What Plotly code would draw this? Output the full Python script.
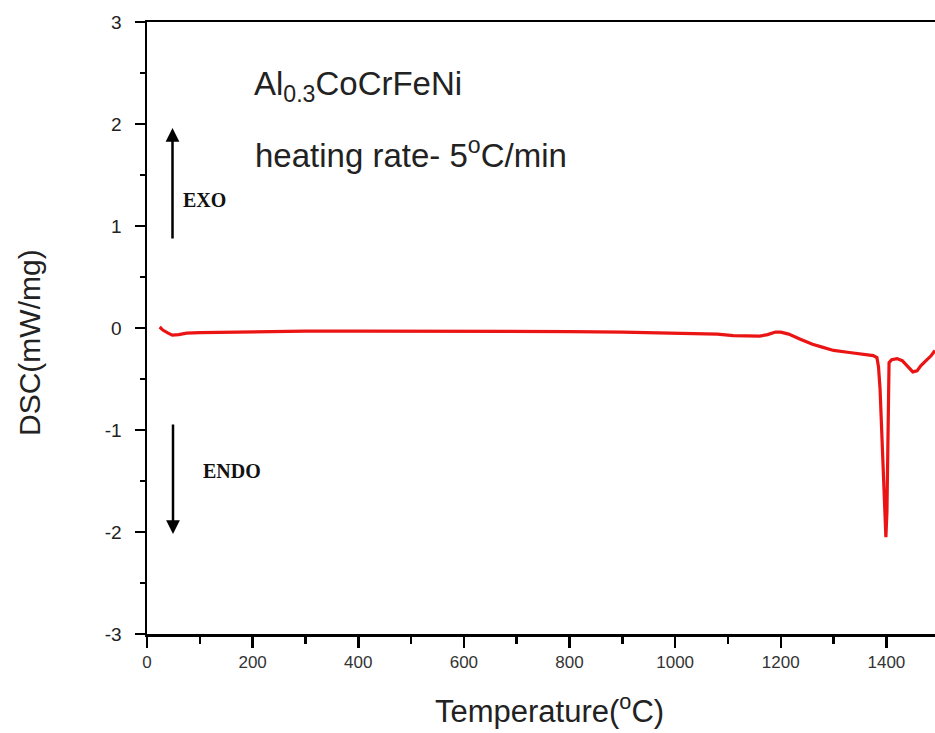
import plotly.graph_objects as go

# Data
temperature = [24, 30, 40, 48, 60, 75, 100, 150, 200, 300, 400, 500, 600, 700, 800, 900,
               1000, 1050, 1080, 1110, 1140, 1160, 1175, 1190, 1200, 1215, 1237, 1260, 1280,
               1300, 1330, 1360, 1375, 1382, 1385, 1388, 1392, 1396, 1399, 1401, 1403, 1405,
               1410, 1420, 1430, 1440, 1450, 1458, 1465, 1475, 1485, 1492]
dsc = [0.01, -0.02, -0.05, -0.07, -0.065, -0.05, -0.045, -0.04, -0.035, -0.03, -0.03, -0.03,
       -0.03, -0.03, -0.035, -0.04, -0.05, -0.05, -0.06, -0.075, -0.08, -0.08, -0.065, -0.04,
       -0.04, -0.06, -0.11, -0.16, -0.19, -0.22, -0.24, -0.26, -0.27, -0.29, -0.38, -0.6,
       -1.1, -1.6, -2.05, -1.8, -0.7, -0.34, -0.31, -0.3, -0.32, -0.37, -0.43, -0.42, -0.37,
       -0.32, -0.27, -0.22]

x_ticks = [0, 200, 400, 600, 800, 1000, 1200, 1400]
x_tick_labels = ["0", "200", "400", "600", "800", "1000", "1200", "1400"]
y_ticks = [-3, -2, -1, 0, 1, 2, 3]
y_tick_labels = ["-3", "-2", "-1", "0", "1", "2", "3"]

SANS = "Liberation Sans, Arial, sans-serif"
SERIF = "Liberation Serif, Times New Roman, serif"

W, H = 935, 733
L, T, B = 147, 22, 733 - 634

fig = go.Figure()
fig.add_trace(go.Scatter(x=temperature, y=dsc, mode="lines",
                         line=dict(color="rgb(235,20,20)", width=3.2),
                         showlegend=False, hoverinfo="skip"))

fig.update_layout(
    width=W, height=H,
    margin=dict(l=L, r=0, t=T, b=B, pad=0),
    paper_bgcolor="white", plot_bgcolor="white",
    font=dict(family=SANS, color="#222"),
    xaxis=dict(range=[0, 1492], tickvals=x_ticks, ticktext=x_tick_labels,
               showgrid=False, zeroline=False, showline=True, linecolor="black",
               linewidth=2.5, mirror=True, ticks="outside", ticklen=11, tickwidth=2.5,
               tickcolor="black", tickfont=dict(size=17, color="#333", family=SANS),
               minor=dict(dtick=100, tick0=0, ticks="outside", ticklen=7, tickwidth=2.5,
                          tickcolor="black", showgrid=False)),
    yaxis=dict(range=[-3, 3], tickvals=y_ticks, ticktext=y_tick_labels,
               showgrid=False, zeroline=False, showline=True, linecolor="black",
               linewidth=2.5, mirror=False, ticks="outside", ticklen=10, tickwidth=2.5,
               tickcolor="black", tickfont=dict(size=19, color="#222", family=SANS),
               ticklabelstandoff=9,
               minor=dict(dtick=0.5, tick0=0, ticks="outside", ticklen=5, tickwidth=2.5,
                          tickcolor="black", showgrid=False)),
)


def px_x(p):
    return (p - 147) / 788


def px_y(p):
    return (634 - p) / 612


annotations = [
    dict(text="Al<sub>0.3</sub>CoCrFeNi", x=px_x(252), y=px_y(86),
         xref="paper", yref="paper", xanchor="left", yanchor="middle", showarrow=False,
         font=dict(size=33, family=SANS, color="#222")),
    dict(text="heating rate- 5<sup>o</sup>C/min", x=px_x(253), y=px_y(153),
         xref="paper", yref="paper", xanchor="left", yanchor="middle", showarrow=False,
         font=dict(size=33, family=SANS, color="#222")),
    dict(text="DSC(mW/mg)", x=px_x(29), y=px_y(343), textangle=-90,
         xref="paper", yref="paper", xanchor="center", yanchor="middle", showarrow=False,
         font=dict(size=30, family=SANS, color="#222")),
    dict(text="Temperature(<sup>o</sup>C)", x=px_x(549), y=px_y(709),
         xref="paper", yref="paper", xanchor="center", yanchor="middle", showarrow=False,
         font=dict(size=31, family=SANS, color="#222")),
    dict(text="<b>EXO</b>", x=px_x(181), y=px_y(200),
         xref="paper", yref="paper", xanchor="left", yanchor="middle", showarrow=False,
         font=dict(size=20, family=SERIF, color="#111")),
    dict(text="<b>ENDO</b>", x=px_x(201), y=px_y(471),
         xref="paper", yref="paper", xanchor="left", yanchor="middle", showarrow=False,
         font=dict(size=20, family=SERIF, color="#111")),
    # EXO arrow (pointing up)
    dict(text="", x=px_x(172.5), y=px_y(128), ax=px_x(172.5), ay=px_y(240),
         xref="x domain", yref="y domain", axref="x domain", ayref="y domain",
         showarrow=True, arrowhead=2, arrowsize=1.1, arrowwidth=2.5, arrowcolor="black",
         standoff=0, startstandoff=0),
    # ENDO arrow (pointing down)
    dict(text="", x=px_x(173), y=px_y(534), ax=px_x(173), ay=px_y(423),
         xref="x domain", yref="y domain", axref="x domain", ayref="y domain",
         showarrow=True, arrowhead=2, arrowsize=1.1, arrowwidth=2.5, arrowcolor="black",
         standoff=0, startstandoff=0),
]
fig.update_layout(annotations=annotations)

fig.write_html(
    "out.html",
    config={"displayModeBar": False, "staticPlot": True},
    post_script=("document.body.style.margin='0';"
                 "document.body.style.overflow='hidden';"
                 "document.documentElement.style.overflow='hidden';"),
)
